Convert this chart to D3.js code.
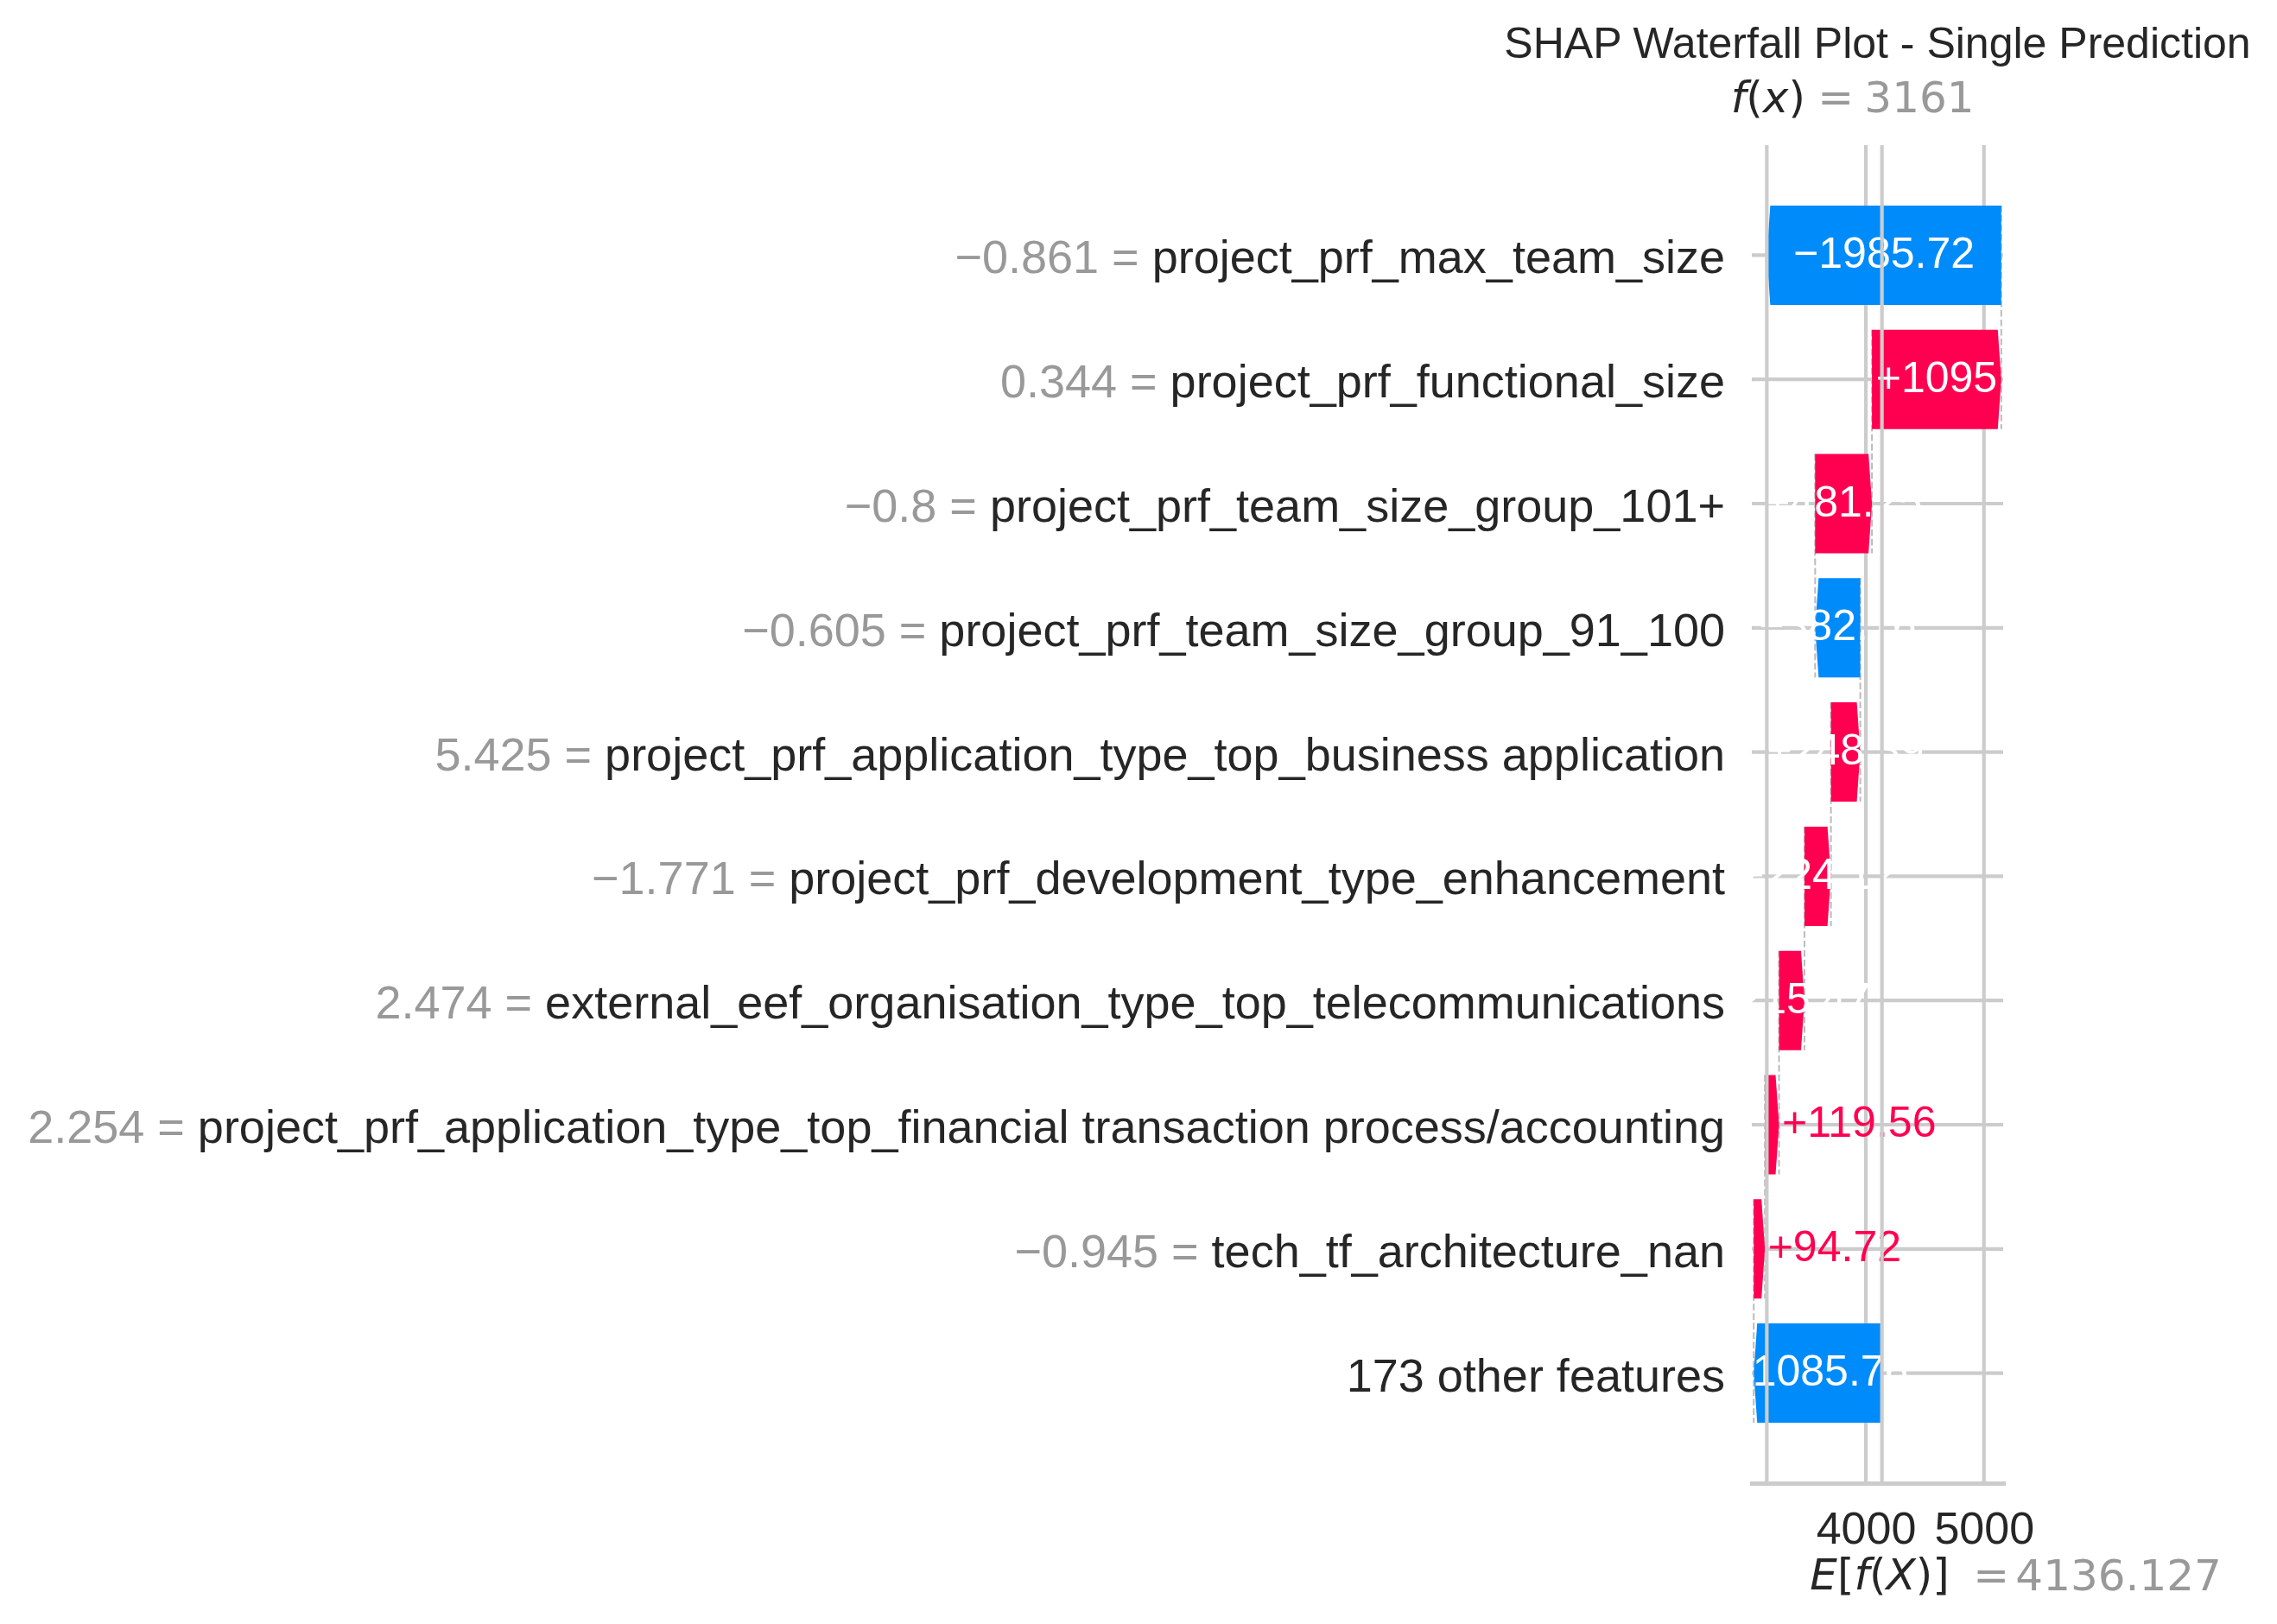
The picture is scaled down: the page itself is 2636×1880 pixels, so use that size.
<!DOCTYPE html>
<html><head><meta charset="utf-8">
<script src="https://cdn.jsdelivr.net/npm/d3@7"></script>
<style>
body{margin:0;background:#fff}
svg{display:block}
</style>
</head><body>
<svg id="chart" width="2636" height="1880"></svg>
<script>
// ---------------- data ----------------
const featureNames = [
  "project_prf_max_team_size",
  "project_prf_functional_size",
  "project_prf_team_size_group_101+",
  "project_prf_team_size_group_91_100",
  "project_prf_application_type_top_business application",
  "project_prf_development_type_enhancement",
  "external_eef_organisation_type_top_telecommunications",
  "project_prf_application_type_top_financial transaction process/accounting",
  "tech_tf_architecture_nan"
];
const featureValues = [-0.861, 0.344, -0.8, -0.605, 5.425, -1.771, 2.474, 2.254, -0.945];
const otherFeatureCount = 173;
// SHAP contributions, top row first; last entry = "other features"
const shapValues = [-1985.72, 1095.00, 481.25, -382.16, 248.39, 224.12, 215.47, 119.56, 94.72, -1085.76];
const baseValue = 4136.127;   // E[f(X)]
const fxValue = 3161;         // f(x)
const xTicks = [4000, 5000];
const xLimits = [3034, 5163];

// ---------------- style ----------------
const RED = "#ff0051", BLUE = "#008bfb";
const GRID = "#cccccc", TXT = "#262626", GRAY = "#999999";
const SANS = "'Liberation Sans', Arial, sans-serif";
const MATH = "'DejaVu Sans', sans-serif";
const plot = {left: 2028, right: 2319, top: 168, bottom: 1717};
const headPx = 4, shrink = 8;

function formatValue(v, digits, signed) {
  let s = (signed && v >= 0 ? "+" : "") + v.toFixed(digits);
  s = s.replace(/\.?0+$/, "");
  if (s[0] === "-") s = "\u2212" + s.slice(1);
  return s;
}

const svg = d3.select("#chart");
svg.append("rect").attr("width", 2636).attr("height", 1880).attr("fill", "#fff");

const n = shapValues.length;
const x = d3.scaleLinear().domain(xLimits).range([plot.left, plot.right]);
const y = d3.scaleLinear().domain([-0.886, n - 1 + 0.886]).range([plot.top, plot.bottom]);

// cumulative waterfall from the base value (bottom row) upward
const bars = shapValues.map((v, i) => ({i, v}));
{
  let cur = baseValue;
  for (let i = n - 1; i >= 0; i--) {
    bars[i].start = cur;
    bars[i].end = cur + shapValues[i];
    cur = bars[i].end;
  }
}

// ---------------- connector dashed lines (zorder -1) ----------------
svg.append("g").selectAll("line").data(bars.slice(0, n - 1)).join("line")
  .attr("x1", d => x(d.start)).attr("x2", d => x(d.start))
  .attr("y1", d => y(d.i - 0.4)).attr("y2", d => y(d.i + 1.4))
  .attr("stroke", "#bbbbbb").attr("stroke-width", 2)
  .attr("stroke-dasharray", "7.7 3.3");

// ---------------- main grid ----------------
const gGrid = svg.append("g");
gGrid.selectAll("line.h").data(d3.range(n)).join("line").attr("class", "h")
  .attr("x1", plot.left).attr("x2", plot.right)
  .attr("y1", d => y(d)).attr("y2", d => y(d))
  .attr("stroke", GRID).attr("stroke-width", 4.2);
gGrid.selectAll("line.v").data(xTicks).join("line").attr("class", "v")
  .attr("x1", d => x(d)).attr("x2", d => x(d))
  .attr("y1", plot.top).attr("y2", plot.bottom)
  .attr("stroke", GRID).attr("stroke-width", 4.2);

// ---------------- bars (arrows) ----------------
function arrowPath(d) {
  const from = x(d.start), to = x(d.end);
  const dir = to >= from ? 1 : -1;
  const hl = Math.min(headPx, Math.abs(to - from));
  const top = y(d.i - 0.4), bot = y(d.i + 0.4), mid = y(d.i);
  return `M${from},${top}L${to - dir * hl},${top}L${to},${mid}L${to - dir * hl},${bot}L${from},${bot}Z`;
}
svg.append("g").selectAll("path").data(bars).join("path")
  .attr("d", arrowPath)
  .attr("fill", d => d.v >= 0 ? RED : BLUE);

// ---------------- bar labels ----------------
const gLab = svg.append("g").attr("font-family", SANS).attr("font-size", 50);
bars.forEach(d => {
  const txt = formatValue(d.v, 2, true);
  const x0 = x(Math.min(d.start, d.end)), x1 = x(Math.max(d.start, d.end));
  const t = gLab.append("text").text(txt)
    .attr("x", (x0 + x1) / 2).attr("y", y(d.i) + 14.5)
    .attr("text-anchor", "middle").attr("fill", "#fff");
  const tw = t.node().getComputedTextLength();
  if (tw > (x1 - x0) * shrink) {
    if (d.v >= 0) {
      t.attr("x", x1 + 3.5).attr("text-anchor", "start").attr("fill", RED);
    } else {
      t.attr("x", x0 - 3.5).attr("text-anchor", "end").attr("fill", BLUE);
    }
  }
});

// ---------------- x axis ----------------
const gAxis = svg.append("g").attr("transform", `translate(0,${plot.bottom})`)
  .call(d3.axisBottom(x).tickValues(xTicks).tickSize(0).tickSizeOuter(0).tickFormat(d3.format("d")));
gAxis.select(".domain").attr("stroke", GRID).attr("stroke-width", 5.2).attr("stroke-linecap", "square");
gAxis.selectAll(".tick text").attr("y", 70).attr("dy", null)
  .attr("font-family", SANS).attr("font-size", 52).attr("fill", TXT);

// ---------------- twin-axis grid lines (f(x), E[f(X)]) drawn on top ----------------
svg.append("g").selectAll("line").data([fxValue, baseValue]).join("line")
  .attr("x1", d => x(d)).attr("x2", d => x(d))
  .attr("y1", plot.top).attr("y2", plot.bottom)
  .attr("stroke", GRID).attr("stroke-width", 4.2);

// ---------------- y labels ----------------
const yLabels = featureNames.map((nm, i) => ({val: formatValue(featureValues[i], 3, false) + " = ", name: nm}));
yLabels.push({val: "", name: otherFeatureCount + " other features"});
const gY = svg.append("g").attr("font-family", SANS).attr("font-size", 54);
yLabels.forEach((d, i) => {
  const t = gY.append("text").attr("x", plot.left - 31).attr("y", y(i) + 21).attr("text-anchor", "end");
  if (d.val) t.append("tspan").attr("fill", GRAY).text(d.val);
  t.append("tspan").attr("fill", TXT).text(d.name);
});

// ---------------- f(x) label (top) ----------------
const fxT = svg.append("text").attr("font-family", MATH).attr("font-size", 50).attr("fill", TXT)
  .attr("x", x(fxValue) - 41.7).attr("y", 130);
fxT.append("tspan").attr("font-style", "italic").text("f");
fxT.append("tspan").text("(");
fxT.append("tspan").attr("font-style", "italic").text("x");
fxT.append("tspan").text(")");
svg.append("text").attr("font-family", MATH).attr("font-size", 50).attr("fill", GRAY)
  .attr("x", x(fxValue) + 50 + 9).attr("y", 130).text("=");
svg.append("text").attr("font-family", MATH).attr("font-size", 50).attr("fill", GRAY)
  .attr("x", x(fxValue) + 50 + 63).attr("y", 130).text(formatValue(fxValue, 3, false));

// ---------------- E[f(X)] label (bottom) ----------------
const eT = svg.append("text").attr("font-family", MATH).attr("font-size", 50).attr("fill", TXT)
  .attr("x", x(baseValue) - 83.3).attr("y", 1840);
[["E", 1], ["[", 0], ["f", 1], ["(", 0], ["X", 1], [")", 0], ["]", 0]].forEach(([c, it]) => {
  const s = eT.append("tspan").text(c);
  if (it) s.attr("font-style", "italic");
});
svg.append("text").attr("font-family", MATH).attr("font-size", 50).attr("fill", GRAY)
  .attr("x", x(baseValue) + 91.7 + 14).attr("y", 1841).text("=");
svg.append("text").attr("font-family", MATH).attr("font-size", 50).attr("fill", GRAY)
  .attr("x", x(baseValue) + 91.7 + 63).attr("y", 1841).text(formatValue(baseValue, 3, false));

// ---------------- title ----------------
svg.append("text").attr("font-family", SANS).attr("font-size", 50).attr("fill", TXT)
  .attr("x", (plot.left + plot.right) / 2).attr("y", 66.7).attr("text-anchor", "middle")
  .text("SHAP Waterfall Plot - Single Prediction");
</script>
</body></html>
